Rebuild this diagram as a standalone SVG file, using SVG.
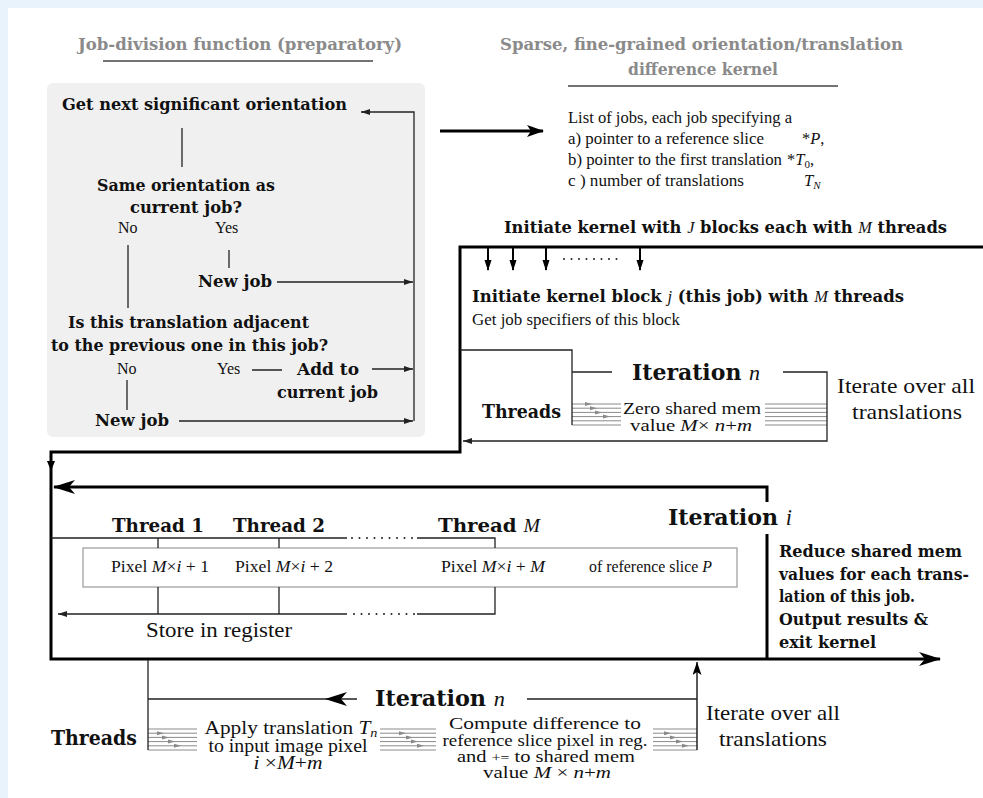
<svg xmlns="http://www.w3.org/2000/svg" xmlns:xlink="http://www.w3.org/1999/xlink" width="983" height="798" viewBox="0 0 983 798">
<style>
text{lengthAdjust:spacingAndGlyphs}
.b{font-family:"DejaVu Serif",serif;font-weight:bold;fill:#111}
.r{font-family:"Liberation Serif",serif;fill:#111}
.m{font-family:"Liberation Serif",serif;font-style:italic;font-weight:normal}
.g{fill:#8a8a8a}
.thk{stroke:#000;stroke-width:3;fill:none}
.thn{stroke:#222;stroke-width:1.3;fill:none}
.gl{stroke:#8a8a8a;stroke-width:1;fill:none}
.dots{stroke:#222;stroke-width:2;stroke-dasharray:0 7.5;stroke-linecap:round;fill:none}
</style>
<defs>
<marker id="stl" markerWidth="24" markerHeight="16" refX="21" refY="7" orient="auto" markerUnits="userSpaceOnUse"><path d="M0,0 L22,7 L0,14 L6,7 z" fill="#000"/></marker>
<marker id="stl2" markerWidth="20" markerHeight="14" refX="16" refY="6" orient="auto" markerUnits="userSpaceOnUse"><path d="M0,0 L17,6 L0,12 L4,6 z" fill="#000"/></marker>
<marker id="tip" markerWidth="10" markerHeight="8" refX="9" refY="3" orient="auto" markerUnits="userSpaceOnUse"><path d="M0,0 L9,3 L0,6 z" fill="#222"/></marker>
<marker id="dn" markerWidth="12" markerHeight="8" refX="10" refY="3.5" orient="auto" markerUnits="userSpaceOnUse"><path d="M0,0 L11,3.5 L0,7 z" fill="#000"/></marker>
<marker id="up" markerWidth="14" markerHeight="10" refX="13" refY="4.5" orient="auto" markerUnits="userSpaceOnUse"><path d="M0,0 L13,4.5 L0,9 L3,4.5 z" fill="#000"/></marker>
<path id="ga" d="M-7,-2 L0,0 L-7,2 z" fill="#8a8a8a"/>
</defs>
<rect width="983" height="798" fill="#e8f3fb"/>
<rect x="8" y="8" width="975" height="790" fill="#fff"/>

<g id="prep-panel">
<rect x="47" y="83" width="378" height="354" rx="6" fill="#f0f0f0"/>
</g>
<g id="title-prep">
<text class="b g" x="78" y="50" font-size="17" textLength="324" lengthAdjust="spacingAndGlyphs">Job-division function (preparatory)</text>
<line x1="103" y1="61" x2="373" y2="61" stroke="#444" stroke-width="1.6"/>
</g>
<g id="get-next">
<text class="b" x="62" y="110" font-size="16.5" textLength="285" lengthAdjust="spacingAndGlyphs">Get next significant orientation</text>
</g>
<g id="same-orientation">
<text class="b" x="97" y="191" font-size="16.5" textLength="178" lengthAdjust="spacingAndGlyphs">Same orientation as</text>
<text class="b" x="130" y="213" font-size="16.5" textLength="112" lengthAdjust="spacingAndGlyphs">current job?</text>
<text class="r" x="118" y="233" font-size="16">No</text>
<text class="r" x="215" y="233" font-size="16">Yes</text>
</g>
<g id="new-job-1">
<text class="b" x="198" y="287" font-size="16.5" textLength="74" lengthAdjust="spacingAndGlyphs">New job</text>
</g>
<g id="adjacent">
<text class="b" x="68" y="328" font-size="16.5" textLength="241" lengthAdjust="spacingAndGlyphs">Is this translation adjacent</text>
<text class="b" x="51" y="351" font-size="16.5" textLength="277" lengthAdjust="spacingAndGlyphs">to the previous one in this job?</text>
<text class="r" x="117" y="374" font-size="16">No</text>
<text class="r" x="217" y="374" font-size="16">Yes</text>
</g>
<g id="add-to">
<text class="b" x="297" y="375" font-size="16.5" textLength="62" lengthAdjust="spacingAndGlyphs">Add to</text>
<text class="b" x="277" y="398" font-size="16.5" textLength="101" lengthAdjust="spacingAndGlyphs">current job</text>
</g>
<g id="new-job-2">
<text class="b" x="95" y="426" font-size="16.5" textLength="74" lengthAdjust="spacingAndGlyphs">New job</text>
</g>

<g id="title-kernel">
<text class="b g" x="500" y="50" font-size="17" textLength="403" lengthAdjust="spacingAndGlyphs">Sparse, fine-grained orientation/translation</text>
<text class="b g" x="628" y="75" font-size="17" textLength="150" lengthAdjust="spacingAndGlyphs">difference kernel</text>
<line x1="568" y1="86" x2="838" y2="86" stroke="#444" stroke-width="1.6"/>
</g>
<g id="job-list" class="r" font-size="16.5">
<text x="568" y="123" textLength="224" lengthAdjust="spacingAndGlyphs">List of jobs, each job specifying a</text>
<text x="568" y="144" textLength="196" lengthAdjust="spacingAndGlyphs">a) pointer to a reference slice</text>
<text x="802" y="144">*<tspan class="m">P</tspan>,</text>
<text x="568" y="165" textLength="214" lengthAdjust="spacingAndGlyphs">b) pointer to the first translation</text>
<text x="787" y="165">*<tspan class="m">T</tspan><tspan font-size="11" dy="3">0</tspan><tspan dy="-3">,</tspan></text>
<text x="568" y="186" textLength="176" lengthAdjust="spacingAndGlyphs">c ) number of translations</text>
<text x="804" y="186"><tspan class="m">T</tspan><tspan class="m" font-size="11" dy="3">N</tspan></text>
</g>
<g id="init-kernel">
<text class="b" x="504" y="233" font-size="16.5" textLength="443" lengthAdjust="spacingAndGlyphs">Initiate kernel with <tspan class="m">J</tspan>  blocks each with <tspan class="m">M</tspan> threads</text>
</g>
<g id="init-block">
<text class="b" x="472" y="302" font-size="16.5" textLength="432" lengthAdjust="spacingAndGlyphs">Initiate kernel block  <tspan class="m">j</tspan>  (this job) with <tspan class="m">M</tspan> threads</text>
<text class="r" x="472" y="325" font-size="17" textLength="208" lengthAdjust="spacingAndGlyphs">Get job specifiers of this block</text>
</g>
<g id="zero-iteration">
<text class="b" x="632" y="380" font-size="22" textLength="128" lengthAdjust="spacingAndGlyphs">Iteration <tspan class="m">n</tspan></text>
<text class="b" x="482" y="418" font-size="18.5" textLength="79" lengthAdjust="spacingAndGlyphs">Threads</text>
<text class="r" x="623" y="414" font-size="17.5" textLength="138" lengthAdjust="spacingAndGlyphs">Zero shared mem</text>
<text class="r" x="630" y="431" font-size="17.5" textLength="122" lengthAdjust="spacingAndGlyphs">value <tspan class="m">M</tspan>× <tspan class="m">n</tspan>+<tspan class="m">m</tspan></text>
<text class="r" x="837" y="393" font-size="22" textLength="138" lengthAdjust="spacingAndGlyphs">Iterate over all</text>
<text class="r" x="852" y="419" font-size="22" textLength="110" lengthAdjust="spacingAndGlyphs">translations</text>
<g transform="translate(572,404)">
<path class="gl" d="M0,0H49M0,4.2H49M0,8.4H49M0,12.6H49M0,16.8H49M0,21H49"/>
<use xlink:href="#ga" x="20" y="0"/><use xlink:href="#ga" x="25" y="4.2"/><use xlink:href="#ga" x="30" y="8.4"/><use xlink:href="#ga" x="38" y="12.6"/>
</g>
<path class="gl" d="M765,404H827M765,408.2H827M765,412.4H827M765,416.6H827M765,420.8H827M765,425H827"/>
</g>
<g id="threads-pixels">
<text class="b" x="112" y="532" font-size="19" textLength="92" lengthAdjust="spacingAndGlyphs">Thread 1</text>
<text class="b" x="233" y="532" font-size="19" textLength="92" lengthAdjust="spacingAndGlyphs">Thread 2</text>
<text class="b" x="438" y="532" font-size="19" textLength="102" lengthAdjust="spacingAndGlyphs">Thread <tspan class="m">M</tspan></text>
<rect x="83" y="548" width="654" height="39" fill="none" stroke="#9a9a9a" stroke-width="1.2"/>
<g class="r" font-size="16">
<text x="111" y="572" textLength="98" lengthAdjust="spacingAndGlyphs">Pixel <tspan class="m">M</tspan>×<tspan class="m">i</tspan> + 1</text>
<text x="235" y="572" textLength="98" lengthAdjust="spacingAndGlyphs">Pixel <tspan class="m">M</tspan>×<tspan class="m">i</tspan> + 2</text>
<text x="441" y="572" textLength="104" lengthAdjust="spacingAndGlyphs">Pixel <tspan class="m">M</tspan>×<tspan class="m">i</tspan> + <tspan class="m">M</tspan></text>
<text x="589" y="572" textLength="123" lengthAdjust="spacingAndGlyphs">of reference slice <tspan class="m">P</tspan></text>
</g>
<text class="r" x="146" y="637" font-size="21" textLength="146" lengthAdjust="spacingAndGlyphs">Store in register</text>
</g>
<g id="iteration-i">
<text class="b" x="668" y="525" font-size="22.5" textLength="124" lengthAdjust="spacingAndGlyphs">Iteration <tspan class="m">i</tspan></text>
</g>
<g id="reduce" class="b" font-size="16.5">
<text x="779" y="557" textLength="183" lengthAdjust="spacingAndGlyphs">Reduce shared mem</text>
<text x="779" y="580" textLength="190" lengthAdjust="spacingAndGlyphs">values for each trans-</text>
<text x="779" y="602" textLength="136" lengthAdjust="spacingAndGlyphs">lation of this job.</text>
<text x="779" y="625" textLength="149" lengthAdjust="spacingAndGlyphs">Output results &amp;</text>
<text x="779" y="648" textLength="97" lengthAdjust="spacingAndGlyphs">exit kernel</text>
</g>
<g id="inner-iteration">
<text class="b" x="375" y="706" font-size="22" textLength="130" lengthAdjust="spacingAndGlyphs">Iteration <tspan class="m">n</tspan></text>
<text class="b" x="51" y="745" font-size="19.5" textLength="86" lengthAdjust="spacingAndGlyphs">Threads</text>
<g class="r" font-size="18" text-anchor="middle">
<text x="291" y="734" textLength="173" lengthAdjust="spacingAndGlyphs">Apply translation <tspan class="m">T</tspan><tspan class="m" font-size="12" dy="3">n</tspan></text>
<text x="288" y="752" textLength="159" lengthAdjust="spacingAndGlyphs">to input image pixel</text>
<text x="288" y="769" textLength="69" lengthAdjust="spacingAndGlyphs"><tspan class="m">i</tspan> ×<tspan class="m">M</tspan>+<tspan class="m">m</tspan></text>
</g>
<g class="r" font-size="17" text-anchor="middle">
<text x="545" y="729" textLength="192" lengthAdjust="spacingAndGlyphs">Compute difference to</text>
<text x="545" y="746" textLength="205" lengthAdjust="spacingAndGlyphs">reference slice pixel in reg.</text>
<text x="546" y="762" textLength="178" lengthAdjust="spacingAndGlyphs">and <tspan font-size="13">+=</tspan> to shared mem</text>
<text x="547" y="778" textLength="128" lengthAdjust="spacingAndGlyphs">value  <tspan class="m">M</tspan> × <tspan class="m">n</tspan>+<tspan class="m">m</tspan></text>
</g>
<text class="r" x="706" y="720" font-size="21" textLength="134" lengthAdjust="spacingAndGlyphs">Iterate over all</text>
<text class="r" x="719" y="746" font-size="21" textLength="108" lengthAdjust="spacingAndGlyphs">translations</text>
<g transform="translate(148,729)">
<path class="gl" d="M0,0H49M0,4.2H49M0,8.4H49M0,12.6H49M0,16.8H49M0,21H49"/>
<use xlink:href="#ga" x="16" y="4.2"/><use xlink:href="#ga" x="21" y="8.4"/><use xlink:href="#ga" x="27" y="12.6"/><use xlink:href="#ga" x="33" y="16.8"/>
</g>
<g transform="translate(380,729)">
<path class="gl" d="M0,0H56M0,4.2H56M0,8.4H56M0,12.6H56M0,16.8H56M0,21H56"/>
<use xlink:href="#ga" x="26" y="4.2"/><use xlink:href="#ga" x="33" y="8.4"/><use xlink:href="#ga" x="38" y="12.6"/><use xlink:href="#ga" x="44" y="16.8"/>
</g>
<g transform="translate(653,729)">
<path class="gl" d="M0,0H44M0,4.2H44M0,8.4H44M0,12.6H44M0,16.8H44M0,21H44"/>
<use xlink:href="#ga" x="18" y="4.2"/><use xlink:href="#ga" x="24" y="8.4"/><use xlink:href="#ga" x="30" y="12.6"/><use xlink:href="#ga" x="36" y="16.8"/>
</g>
</g>

<g id="connectors">
<path class="thn" d="M182,128V167M128,245V308M229,250V268M127,380V410M252,370H282"/>
<path class="thn" d="M277,282H413" marker-end="url(#tip)"/>
<path class="thn" d="M372,369H413" marker-end="url(#tip)"/>
<path class="thn" d="M179,421H413" marker-end="url(#tip)"/>
<path class="thn" d="M414,421V112H361" marker-end="url(#tip)"/>
<path class="thk" d="M440,131H543" marker-end="url(#stl2)"/>
<path class="thk" d="M983,247H460V452H51V659H940" marker-end="url(#stl)"/>
<path d="M47,461L55,461L51,471z" fill="#000"/>
<path stroke="#000" stroke-width="2" fill="none" d="M488,248V270" marker-end="url(#dn)"/>
<path stroke="#000" stroke-width="2" fill="none" d="M513,248V270" marker-end="url(#dn)"/>
<path stroke="#000" stroke-width="2" fill="none" d="M546,248V270" marker-end="url(#dn)"/>
<path stroke="#000" stroke-width="2" fill="none" d="M640,248V270" marker-end="url(#dn)"/>
<path class="dots" d="M564,259H624"/>
<path class="thn" d="M460,350H572V425"/>
<path class="thn" d="M572,372H612"/>
<path class="thn" d="M783,372H827V441H463" marker-end="url(#tip)"/>
<path class="thk" d="M767,502V487H54" marker-end="url(#stl)"/>
<path class="thk" d="M767,534V659"/>
<path class="thn" d="M51,538H347M417,538H495V548M158,538V548M279,538V548"/>
<path class="dots" d="M352,538H416"/>
<path class="thn" d="M158,587V614M279,587V614M495,587V614H417"/>
<path class="dots" d="M414,614H351"/>
<path class="thn" d="M347,614H58" marker-end="url(#tip)"/>
<path class="thn" d="M148,660V750M357,699H148M527,699H697"/>
<path d="M325,699L347,692L341,699L347,706z" fill="#000"/>
<path stroke="#222" stroke-width="1.5" fill="none" d="M697,750V662" marker-end="url(#up)"/>
</g>
</svg>
